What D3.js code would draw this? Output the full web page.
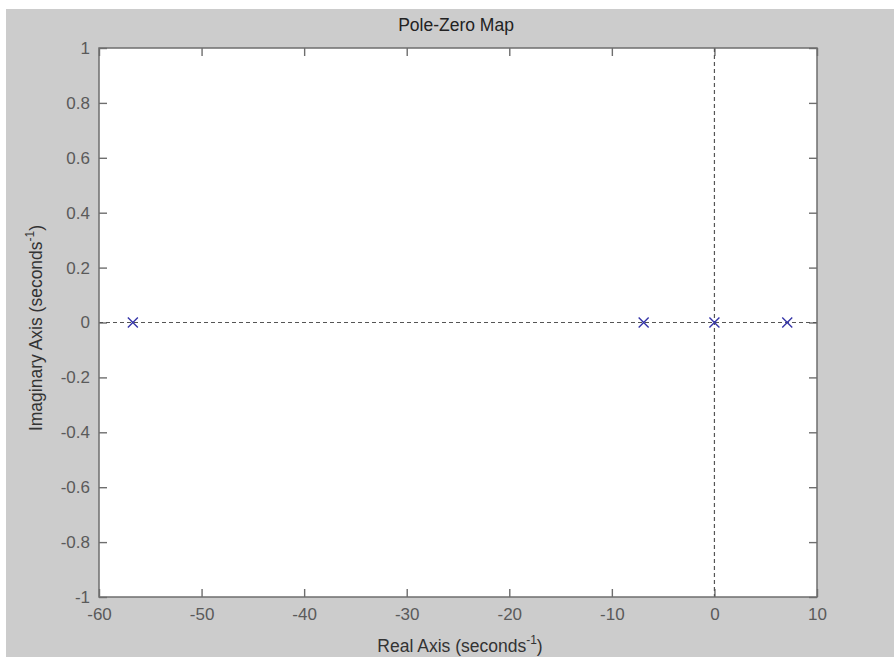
<!DOCTYPE html>
<html><head><meta charset="utf-8">
<script src="https://cdn.jsdelivr.net/npm/d3@7"></script>
<style>
html,body{margin:0;padding:0;background:#fff;}
svg{display:block;}
text{font-family:Arial,"Liberation Sans",sans-serif;}
</style></head>
<body>
<script>
// Data
const title = "Pole-Zero Map";
const xLabel = "Real Axis (seconds";
const yLabel = "Imaginary Axis (seconds";
const poleReal = [-56.7, -6.9, 0, 7.1];
const poleImag = [0, 0, 0, 0];
const xTicks = [-60, -50, -40, -30, -20, -10, 0, 10];
const yTicks = [1, 0.8, 0.6, 0.4, 0.2, 0, -0.2, -0.4, -0.6, -0.8, -1];
const xDomain = [-60, 10];
const yDomain = [-1, 1];

const W = 894, H = 657;
const box = {left: 99, right: 817, top: 48, bottom: 597};

const svg = d3.select("body").append("svg").attr("width", W).attr("height", H);
svg.append("rect").attr("width", W).attr("height", H).attr("fill", "#ffffff");
svg.append("rect").attr("x", 6).attr("y", 9).attr("width", W - 6).attr("height", H - 9).attr("fill", "#cccccc");

const x = d3.scaleLinear().domain(xDomain).range([box.left, box.right]);
const y = d3.scaleLinear().domain(yDomain).range([box.bottom, box.top]);

svg.append("rect").attr("x", box.left).attr("y", box.top)
  .attr("width", box.right - box.left).attr("height", box.bottom - box.top)
  .attr("fill", "#ffffff");

const axisColor = "#6e6e6e";
const textColor = "#5a5a5a";
const tl = 8;
const tickFont = 17;

function styleAxis(g) {
  g.select(".domain").remove();
  g.selectAll(".tick line").attr("stroke", axisColor).attr("stroke-width", 1.4);
  g.selectAll(".tick text").attr("fill", textColor).attr("font-size", tickFont);
}

// bottom axis (ticks inward)
svg.append("g").attr("transform", `translate(0,${box.bottom})`)
  .call(d3.axisBottom(x).tickValues(xTicks).tickSizeInner(-tl).tickSizeOuter(0).tickPadding(11).tickFormat(d => d))
  .call(styleAxis);
// top axis ticks, no labels
svg.append("g").attr("transform", `translate(0,${box.top})`)
  .call(d3.axisTop(x).tickValues(xTicks).tickSizeInner(-tl).tickSizeOuter(0).tickFormat(""))
  .call(styleAxis);
// left axis
svg.append("g").attr("transform", `translate(${box.left},0)`)
  .call(d3.axisLeft(y).tickValues(yTicks).tickSizeInner(-tl).tickSizeOuter(0).tickPadding(9).tickFormat(d => String(d)))
  .call(styleAxis);
// right axis
svg.append("g").attr("transform", `translate(${box.right},0)`)
  .call(d3.axisRight(y).tickValues(yTicks).tickSizeInner(-tl).tickSizeOuter(0).tickFormat(""))
  .call(styleAxis);

// dashed zero lines
svg.append("line").attr("x1", box.left).attr("x2", box.right)
  .attr("y1", y(0)).attr("y2", y(0))
  .attr("stroke", "#555").attr("stroke-dasharray", "4,3").attr("stroke-width", 1.2);
svg.append("line").attr("x1", x(0)).attr("x2", x(0))
  .attr("y1", box.top).attr("y2", box.bottom)
  .attr("stroke", "#555").attr("stroke-dasharray", "4,3").attr("stroke-width", 1.2);

// box
svg.append("rect").attr("x", box.left).attr("y", box.top)
  .attr("width", box.right - box.left).attr("height", box.bottom - box.top)
  .attr("fill", "none").attr("stroke", axisColor).attr("stroke-width", 1.5);

// poles (x markers)
const ms = 5;
const poles = poleReal.map((r, i) => ({r, im: poleImag[i]}));
const pg = svg.append("g").selectAll("g").data(poles).join("g")
  .attr("transform", d => `translate(${x(d.r)},${y(d.im)})`);
pg.append("path").attr("d", `M${-ms},${-ms}L${ms},${ms}M${-ms},${ms}L${ms},${-ms}`)
  .attr("stroke", "#3535a8").attr("stroke-width", 1.4).attr("fill", "none");

// title
svg.append("text").attr("x", 456).attr("y", 31)
  .attr("text-anchor", "middle").attr("font-size", 17.5).attr("fill", "#222")
  .text(title);

// x label
const xl = svg.append("text").attr("x", 460).attr("y", 652)
  .attr("text-anchor", "middle").attr("font-size", 17.5).attr("fill", "#333");
xl.append("tspan").text(xLabel);
xl.append("tspan").attr("dy", -8).attr("font-size", 12).text("-1");
xl.append("tspan").attr("dy", 8).text(")");

// y label
const yl = svg.append("text")
  .attr("transform", `translate(42,328) rotate(-90)`)
  .attr("text-anchor", "middle").attr("font-size", 17.5).attr("fill", "#333");
yl.append("tspan").text(yLabel);
yl.append("tspan").attr("dy", -8).attr("font-size", 12).text("-1");
yl.append("tspan").attr("dy", 8).text(")");
</script>
</body></html>
